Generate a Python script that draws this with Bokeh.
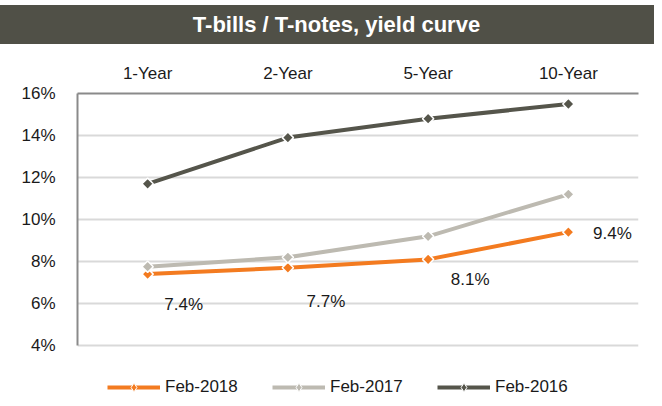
from bokeh.plotting import figure
from bokeh.models import (Range1d, FactorRange, CategoricalAxis, LinearAxis, FixedTicker,
                          PrintfTickFormatter, Legend, LegendItem, ColumnDataSource)
from bokeh.core.properties import value
from bokeh.embed import file_html
from bokeh.resources import INLINE

categories = ["1-Year", "2-Year", "5-Year", "10-Year"]
feb_2018 = [7.4, 7.7, 8.1, 9.4]
feb_2017 = [7.75, 8.2, 9.2, 11.2]
feb_2016 = [11.7, 13.9, 14.8, 15.5]
series_names = ["Feb-2018", "Feb-2017", "Feb-2016"]
label_texts = ["7.4%", "7.7%", "8.1%", "9.4%"]
y_ticks = [4, 6, 8, 10, 12, 14, 16]

colors = ["#F37B20", "#BDBAB1", "#55554B"]
label_dx = [36, 38, 42, 44]
label_dy = [30, 34, 20, 1]

FONT = "Liberation Sans"

# frame runs down to the figure bottom so the legend can sit inside it
p = figure(width=654, height=398, output_backend="svg", toolbar_location=None,
           x_range=FactorRange(*categories, range_padding=0), y_range=Range1d(1.476, 16),
           x_axis_location=None, y_axis_location=None,
           min_border_left=77, min_border_right=16, min_border_top=93, min_border_bottom=0)
p.outline_line_color = None
p.background_fill_color = "white"
p.border_fill_color = "white"

p.title.text = "T-bills / T-notes, yield curve"
p.title.align = "center"
p.title.text_font = FONT
p.title.text_font_style = "bold"
p.title.text_font_size = "22px"
p.title.text_color = "white"
p.title.background_fill_color = "#505047"
p.title.padding = dict(left=400, right=443, top=7, bottom=7)
p.title.standoff = 3

top_axis = CategoricalAxis(axis_line_color="#8A8A8A", axis_line_width=2,
                           major_tick_line_color=None, minor_tick_line_color=None,
                           major_label_text_font=FONT, major_label_text_font_size="17px",
                           major_label_text_color="#1A1A1A", major_label_standoff=5,
                           axis_label=" ", axis_label_standoff=0,
                           axis_label_text_font_size="11px", axis_label_text_color="white")
p.add_layout(top_axis, "above")

left_axis = LinearAxis(ticker=FixedTicker(ticks=y_ticks), bounds=(4, 16),
                       formatter=PrintfTickFormatter(format="%d%%"),
                       axis_line_color="#8A8A8A", axis_line_width=2,
                       major_tick_line_color=None, minor_tick_line_color=None,
                       major_label_text_font=FONT, major_label_text_font_size="17px",
                       major_label_text_color="#1A1A1A", major_label_standoff=16)
p.add_layout(left_axis, "left")

p.xgrid.grid_line_color = None
p.ygrid.ticker = FixedTicker(ticks=y_ticks[:-1])
p.ygrid.grid_line_color = "#D9D9D9"
p.ygrid.grid_line_width = 2

nan = float("nan")
legend_items = []
for name, vals, col in zip(series_names, [feb_2018, feb_2017, feb_2016], colors):
    src = ColumnDataSource(dict(x=categories, y=vals))
    p.line("x", "y", source=src, line_color=col, line_width=4)
    p.scatter("x", "y", source=src, marker="square", angle=0.785398, size=8, fill_color=col,
              line_color="white", line_width=1.5)
    # legend-only renderers (nothing drawn in the plot)
    hidden = ColumnDataSource(dict(x=categories, y=[nan] * len(categories)))
    lg_line = p.line("x", "y", source=hidden, line_color=col, line_width=4)
    lg_mark = p.scatter("x", "y", source=hidden, marker="diamond", size=10,
                        fill_color=col, line_color="white", line_width=1)
    legend_items.append(LegendItem(label=name, renderers=[lg_line, lg_mark]))

lab_src = ColumnDataSource(dict(x=categories, y=feb_2018, t=label_texts, dx=label_dx, dy=label_dy))
p.text("x", "y", text="t", source=lab_src, x_offset="dx", y_offset="dy",
       text_font=value(FONT), text_font_size="17px", text_color="#1A1A1A",
       text_align="center", text_baseline="middle")

legend = Legend(items=legend_items, orientation="horizontal", location=(30, 0),
                glyph_width=53, glyph_height=22, label_standoff=5, spacing=29, label_width=78,
                padding=0, margin=0, border_line_color=None, background_fill_alpha=0,
                label_text_font=FONT, label_text_font_size="17px", label_text_color="#1A1A1A")
p.add_layout(legend, "center")

open("out.html", "w").write(file_html(p, INLINE))
